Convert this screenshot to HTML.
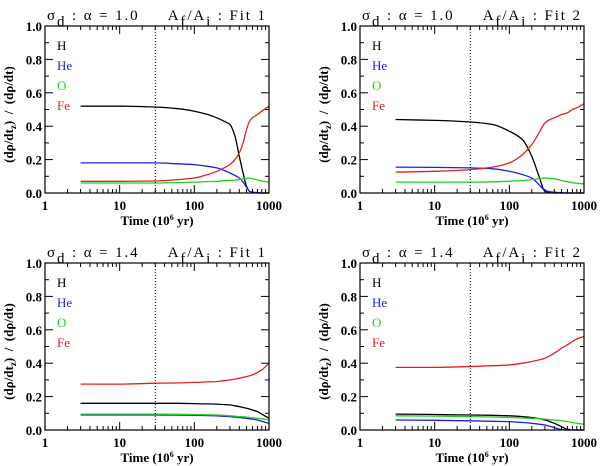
<!DOCTYPE html>
<html><head><meta charset="utf-8"><style>
html,body{margin:0;padding:0;background:#fff;}
svg{display:block;font-family:"Liberation Serif",serif;}
</style></head><body>
<svg id="chart" width="600" height="466" viewBox="0 0 600 466"></svg>
<script>
const times = [3,10,30,60,100,150,200,250,300,350,400,450,500,550,600,700,800,1000];
const panelTitles = [["1.0","1"],["1.0","2"],["1.4","1"],["1.4","2"]];
const xTickLabels = ["1","10","100","1000"];
const yTickLabels = ["0.0","0.2","0.4","0.6","0.8","1.0"];
const speciesNames = ["H","He","O","Fe"];
const speciesColors = ["#000","#2020e0","#20d020","#e02020"];
// panel 1
const p1H  = [.52,.52,.515,.505,.49,.47,.45,.43,.41,.34,.22,.12,.04,.01,.005,0,0,0];
const p1He = [.18,.18,.18,.175,.17,.16,.15,.135,.12,.105,.09,.065,.035,.01,.005,.002,0,0];
const p1O  = [.06,.06,.06,.062,.065,.068,.07,.073,.075,.078,.08,.085,.088,.09,.085,.078,.072,.065];
const p1Fe = [.07,.07,.072,.08,.09,.11,.13,.15,.17,.2,.24,.3,.38,.43,.45,.47,.49,.52];
// panel 2
const p2H  = [.44,.435,.425,.41,.37,.32,.22,.1,.01,.005,0,0,0,0,0,0,0,0];
const p2He = [.155,.153,.15,.145,.13,.11,.09,.05,.015,.008,.005,.003,.002,0,0,0,0,0];
const p2O  = [.065,.065,.065,.067,.07,.075,.08,.085,.09,.088,.085,.08,.075,.07,.067,.062,.058,.055];
const p2Fe = [.125,.13,.14,.155,.18,.23,.29,.36,.42,.44,.45,.46,.47,.475,.48,.5,.51,.535];
// panel 3
const p3H  = [.16,.16,.16,.16,.158,.156,.155,.152,.15,.145,.14,.135,.13,.125,.12,.11,.095,.07];
const p3He = [.09,.09,.09,.089,.088,.086,.085,.082,.08,.077,.075,.072,.07,.067,.065,.06,.052,.04];
const p3O  = [.095,.095,.095,.094,.093,.091,.09,.088,.085,.083,.08,.079,.077,.075,.073,.07,.067,.06];
const p3Fe = [.275,.275,.28,.282,.285,.288,.29,.295,.30,.305,.31,.315,.32,.325,.33,.345,.36,.40];
// panel 4
const p4H  = [.095,.093,.09,.088,.085,.08,.075,.068,.06,.05,.04,.03,.02,.01,.005,0,0,0];
const p4He = [.06,.058,.055,.052,.05,.045,.04,.035,.03,.022,.015,.008,.003,0,0,0,0,0];
const p4O  = [.085,.083,.08,.078,.075,.072,.07,.067,.065,.062,.06,.058,.055,.052,.05,.045,.04,.035];
const p4Fe = [.375,.375,.38,.385,.39,.40,.41,.42,.43,.445,.46,.475,.49,.50,.51,.53,.545,.56];
const panelSeries = [[p1H,p1He,p1O,p1Fe],[p2H,p2He,p2O,p2Fe],[p3H,p3He,p3O,p3Fe],[p4H,p4He,p4O,p4Fe]];
const markerTime = 30;

const NS="http://www.w3.org/2000/svg";
const svg=document.getElementById('chart');
function mk(tag,attrs,parent){const e=document.createElementNS(NS,tag);for(const k in attrs)e.setAttribute(k,attrs[k]);(parent||svg).appendChild(e);return e;}
// monotone cubic path
function monoPath(px,py){
  const n=px.length,d=[],m=new Array(n);
  for(let i=0;i<n-1;i++)d.push((py[i+1]-py[i])/(px[i+1]-px[i]));
  m[0]=d[0];m[n-1]=d[n-2];
  for(let i=1;i<n-1;i++){if(d[i-1]*d[i]<=0)m[i]=0;else{m[i]=2/(1/d[i-1]+1/d[i]);}}
  let s='M'+px[0].toFixed(1)+','+py[0].toFixed(1);
  for(let i=0;i<n-1;i++){const h=(px[i+1]-px[i])/3;
    s+='C'+(px[i]+h).toFixed(1)+','+(py[i]+m[i]*h).toFixed(1)+' '+(px[i+1]-h).toFixed(1)+','+(py[i+1]-m[i+1]*h).toFixed(1)+' '+px[i+1].toFixed(1)+','+py[i+1].toFixed(1);}
  return s;
}
const frames=[[45,26],[360,26],[45,263],[360,263]];
const W=224,H=167;
panelSeries.forEach((series,pi)=>{
  const [x0,y0]=frames[pi];
  const g=mk('g',{});
  
  
  const xs=t=>x0+Math.log10(t)/3*W;
  const ys=v=>y0+H-v*H;
  series.forEach((vals,si)=>{
    const d=monoPath(times.map(xs),vals.map(ys));
    const p=mk('path',{d:d,fill:'none',stroke:speciesColors[si],'stroke-width':1.3,'stroke-linejoin':'round'},g);
    
    
  });
  const vl=mk('line',{x1:xs(markerTime),x2:xs(markerTime),y1:y0,y2:y0+H,stroke:'#000','stroke-width':1,'stroke-dasharray':'1,2'},g);
  
  
  const fr=mk('rect',{x:x0,y:y0,width:W,height:H,fill:'none',stroke:'#000','stroke-width':1.2},g);
  
  
  for(let dec=0;dec<3;dec++){for(let m=1;m<10;m++){const t=Math.pow(10,dec)*m;const x=xs(t);const L=m===1?8:4;
    mk('line',{x1:x,x2:x,y1:y0+H,y2:y0+H-L,stroke:'#000'},g);mk('line',{x1:x,x2:x,y1:y0,y2:y0+L,stroke:'#000'},g);}}
  xTickLabels.forEach((lab,i)=>{const t=mk('text',{x:xs(Math.pow(10,i)),y:y0+H+17,'text-anchor':'middle','font-size':13,'font-weight':'bold'},g);t.textContent=lab;
    });
  for(let k=0;k<=10;k++){const y=ys(k/10);const L=k%2===0?8:4;
    mk('line',{x1:x0,x2:x0+L,y1:y,y2:y,stroke:'#000'},g);mk('line',{x1:x0+W,x2:x0+W-L,y1:y,y2:y,stroke:'#000'},g);}
  yTickLabels.forEach((lab,i)=>{const t=mk('text',{x:x0-3,y:ys(i*0.2)+5,'text-anchor':'end','font-size':13,'font-weight':'bold'},g);t.textContent=lab;
    });
  const xt=mk('text',{x:x0+W/2,y:y0+H+32,'text-anchor':'middle','font-size':13,'font-weight':'bold'},g);
  xt.innerHTML='Time (10<tspan dy="-5" font-size="8">6</tspan><tspan dy="5"> yr)</tspan>';
  
  const yt=mk('text',{x:0,y:0,'text-anchor':'middle','font-size':13,'font-weight':'bold',transform:`translate(${x0-32},${y0+H/2+5}) rotate(-90)`},g);
  yt.innerHTML='(d\u03C1/dt<tspan dy="3" font-size="9">z</tspan><tspan dy="-3">)&#160; /&#160; (d\u03C1/dt)</tspan>';
  
  const tt=mk('text',{x:x0+2,y:y0-6,'font-size':15},g);
  tt.innerHTML=`\u03C3<tspan dy="6" font-size="15">d</tspan><tspan dy="-6">&#160;:&#160;\u03B1&#160;=&#160;${panelTitles[pi][0]}&#160;&#160;&#160;&#160; A</tspan><tspan dy="6" font-size="15">f</tspan><tspan dy="-6">/A</tspan><tspan dy="6" font-size="15">i</tspan><tspan dy="-6">&#160;:&#160;Fit&#160;${panelTitles[pi][1]}</tspan>`;
  tt.setAttribute('textLength','218');
  
  speciesNames.forEach((n,si)=>{const t=mk('text',{x:x0+12,y:y0+24+si*20,'font-size':13,fill:speciesColors[si]},g);t.textContent=n;
    });
});
</script>
</body></html>
